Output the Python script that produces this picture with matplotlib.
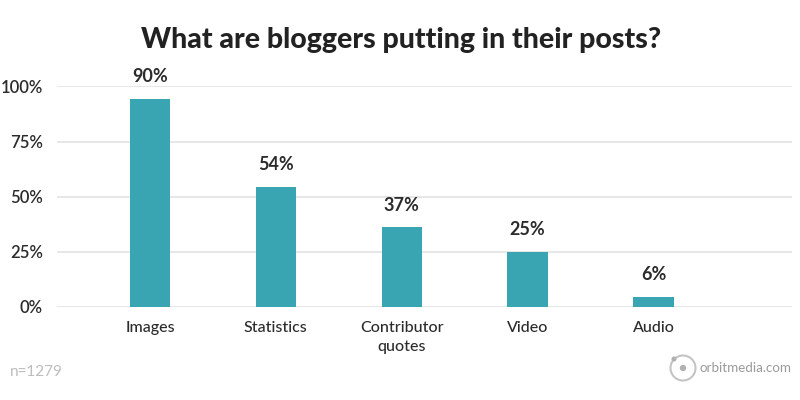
import matplotlib.pyplot as plt
from matplotlib.patches import Circle

categories = ["Images", "Statistics", "Contributor\nquotes", "Video", "Audio"]
heights = [94.5, 54.5, 36, 24.8, 4.5]          # bar heights as drawn
labels = ["90%", "54%", "37%", "25%", "6%"]    # printed value labels
yticks = [0, 25, 50, 75, 100]

bar_color = "#3aa5b2"
text_color = "#2b2b2b"
plt.rcParams["font.family"] = ["Lato", "DejaVu Sans"]

fig = plt.figure(figsize=(8, 4), dpi=100)
ax = fig.add_axes([0.071, 0.233, 0.919, 0.551])

x = range(len(categories))
bars = ax.bar(x, heights, width=0.32, color=bar_color, zorder=3)
for b, lab in zip(bars, labels):
    ax.annotate(lab, (b.get_x() + b.get_width() / 2, b.get_height()),
                xytext=(0, 10), textcoords="offset points",
                ha="center", va="bottom", fontsize=13, fontweight="bold",
                color=text_color)

ax.set_xlim(-0.74, 5.1)
ax.set_ylim(0, 100)
ax.set_yticks(yticks)
ax.set_yticklabels([f"{t}%" for t in yticks])
ax.set_xticks(list(x))
ax.set_xticklabels(categories, linespacing=1.5)
ax.tick_params(axis="both", length=0, labelsize=11.5, colors=text_color)
ax.tick_params(axis="y", pad=10)
ax.tick_params(axis="x", pad=10)
for lab in ax.get_yticklabels():
    lab.set_fontsize(12)
    lab.set_fontweight("semibold")
for lab in ax.get_xticklabels():
    lab.set_fontweight("medium")
ax.grid(axis="y", color="#e3e3e3", linewidth=1.2, zorder=0)
for s in ax.spines.values():
    s.set_visible(False)

fig.text(0.501, 0.9, "What are bloggers putting in their posts?",
         ha="center", va="center", fontsize=20.5, fontweight="black",
         color="#222222")
fig.text(0.012, 0.07, "n=1279", ha="left", va="center", fontsize=11,
         color="#bdbdbd")
fig.text(0.989, 0.08, "orbitmedia.com", ha="right", va="center",
         fontsize=9.6, color="#9a9a9a")

# logo mark
fig.add_artist(Circle((6.83, 0.32), 0.125, transform=fig.dpi_scale_trans,
                      fill=False, edgecolor="#c4c4c4", linewidth=1.5))
fig.add_artist(Circle((6.83, 0.32), 0.025, transform=fig.dpi_scale_trans,
                      color="#b0b0b0"))
fig.add_artist(Circle((6.74, 0.41), 0.018, transform=fig.dpi_scale_trans,
                      color="#b0b0b0"))

fig.savefig("out.png", dpi=100)
